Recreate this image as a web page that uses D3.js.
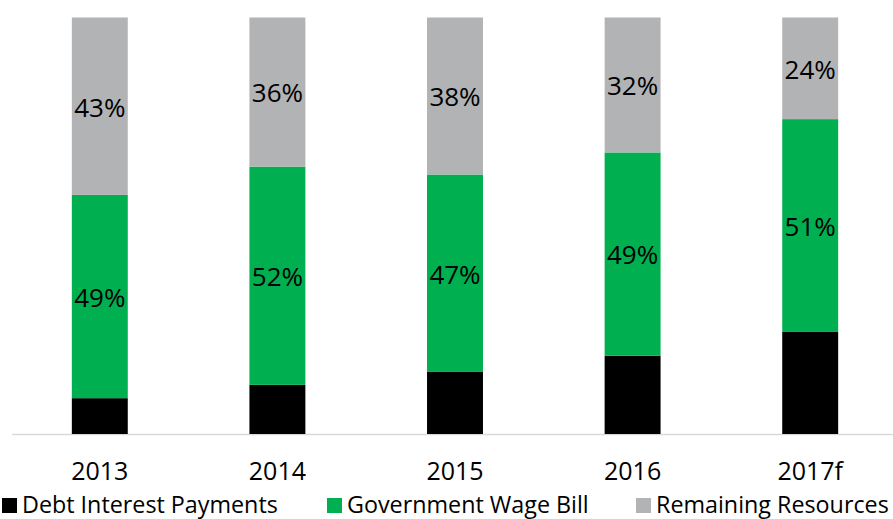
<!DOCTYPE html>
<html>
<head>
<meta charset="utf-8">
<script src="https://cdn.jsdelivr.net/npm/d3@7/dist/d3.min.js"></script>
<style>
  html, body { margin: 0; padding: 0; background: #fff; }
  svg text { font-family: 'Open Sans', sans-serif; fill: #000; }
</style>
</head>
<body>
<svg id="chart"></svg>
<script>
const years = ['2013', '2014', '2015', '2016', '2017f'];
const debtInterest = [8.6, 11.8, 14.9, 18.8, 24.5];
const wageBill = [48.8, 52.4, 47.4, 48.8, 51.1];
const remaining = [42.6, 35.8, 37.7, 32.4, 24.4];
const seriesNames = ['Debt Interest Payments', 'Government Wage Bill', 'Remaining Resources'];
const colors = ['#000000', '#00b050', '#b2b3b5'];

const width = 893;
const height = 519;

const rows = years.map((y, i) => ({
  year: y,
  debt: debtInterest[i],
  wage: wageBill[i],
  rem: remaining[i]
}));
const keys = ['debt', 'wage', 'rem'];

const svg = d3.select('#chart').attr('width', width).attr('height', height);

const x = d3.scaleBand().domain(years).range([11, 899])
  .paddingInner(0.685).paddingOuter(0.3425);
const y = d3.scaleLinear().domain([0, 100]).range([434, 17.5]);

const stacked = d3.stack().keys(keys)(rows);

// baseline
svg.append('line')
  .attr('x1', 12).attr('x2', width)
  .attr('y1', y(0) + 0.5).attr('y2', y(0) + 0.5)
  .attr('stroke', '#d9d9d9').attr('stroke-width', 1.5);

const layers = svg.selectAll('g.layer')
  .data(stacked)
  .join('g')
  .attr('class', 'layer')
  .attr('fill', (d, i) => colors[i]);

layers.selectAll('rect')
  .data(d => d)
  .join('rect')
  .attr('x', d => x(d.data.year))
  .attr('y', d => y(d[1]))
  .attr('width', x.bandwidth())
  .attr('height', d => y(d[0]) - y(d[1]));

// value labels on green and gray segments
stacked.slice(1).forEach(layer => {
  svg.append('g').selectAll('text')
    .data(layer)
    .join('text')
    .attr('x', d => x(d.data.year) + x.bandwidth() / 2)
    .attr('y', d => (y(d[0]) + y(d[1])) / 2)
    .attr('dy', '0.4em')
    .attr('text-anchor', 'middle')
    .style('font-size', '26px')
    .text(d => Math.round(d[1] - d[0]) + '%');
});

// x axis labels
const xAxis = svg.append('g')
  .attr('transform', `translate(0,${y(0)})`)
  .call(d3.axisBottom(x).tickSize(0).tickPadding(28));
xAxis.select('.domain').remove();
xAxis.selectAll('text')
  .style('font-size', '25px')
  .style('font-family', "'Open Sans', sans-serif")
  .attr('fill', '#000');

// legend
const legendX = [2, 327, 636];
const legend = svg.append('g')
  .selectAll('g')
  .data(seriesNames)
  .join('g')
  .attr('transform', (d, i) => `translate(${legendX[i]},498)`);

legend.append('rect')
  .attr('width', 15).attr('height', 15)
  .attr('fill', (d, i) => colors[i]);

legend.append('text')
  .attr('x', 20)
  .attr('y', 15)
  .style('font-size', '23.3px')
  .text(d => d);
</script>
</body>
</html>
